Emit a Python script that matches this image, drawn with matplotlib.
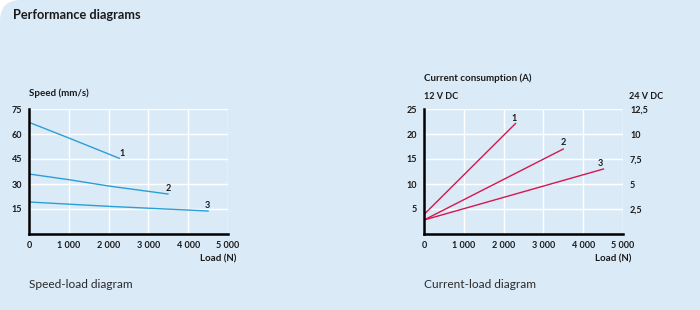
import matplotlib.pyplot as plt
from matplotlib.patches import FancyBboxPatch

# --- data ---
load_ticks = [0, 1000, 2000, 3000, 4000, 5000]
load_labels = ["0", "1 000", "2 000", "3 000", "4 000", "5 000"]

speed_ticks = [15, 30, 45, 60, 75]
speed_x1 = [0, 1000, 2270]
speed_y1 = [67.0, 57.6, 45.4]
speed_x2 = [0, 1000, 2000, 3490]
speed_y2 = [36.0, 32.6, 28.8, 24.0]
speed_x3 = [0, 2000, 4500]
speed_y3 = [19.2, 16.6, 13.8]

curr_ticks = [5, 10, 15, 20, 25]
curr_ticks_24 = [2.5, 5, 7.5, 10, 12.5]
curr_labels_24 = ["2,5", "5", "7,5", "10", "12,5"]
curr_x1 = [0, 2300]
curr_y1 = [3.9, 22.1]
curr_x2 = [0, 3500]
curr_y2 = [2.8, 17.0]
curr_x3 = [0, 4510]
curr_y3 = [2.8, 13.0]

BG = "#dbeaf7"
BLUE = "#2a9fd6"
RED = "#d4184f"
TXT = "#1a1a1a"
plt.rcParams['font.family'] = ['Lato', 'DejaVu Sans']

fig = plt.figure(figsize=(7, 3.1), dpi=100, facecolor="white")
bg = FancyBboxPatch((0, -0.2), 1.2, 1.2, boxstyle="round,pad=0,rounding_size=0.03",
                    transform=fig.transFigure, facecolor=BG, edgecolor="none",
                    mutation_aspect=700 / 310, zorder=-10)
fig.patches.append(bg)

fig.text(13 / 700, 1 - 15 / 310, "Performance diagrams", fontsize=9.2, fontweight="bold",
         color=TXT, va="center", ha="left")


def style_axes(ax, ymax, yticks):
    ax.set_facecolor("none")
    ax.set_xlim(0, 5000)
    ax.set_ylim(0, ymax)
    ax.set_xticks(load_ticks)
    ax.set_xticklabels(load_labels)
    ax.set_yticks(yticks)
    for s in ["top", "right"]:
        ax.spines[s].set_visible(False)
    for s in ["left", "bottom"]:
        ax.spines[s].set_linewidth(1.8)
        ax.spines[s].set_color("black")
        ax.spines[s].set_zorder(5)
    ax.tick_params(length=0, labelsize=6.5, colors=TXT, pad=5)
    for lab in ax.get_xticklabels() + ax.get_yticklabels():
        lab.set_fontweight("bold")
    for t in load_ticks[1:]:
        ax.axvline(t, color="white", lw=1, zorder=0)
    for t in yticks:
        ax.axhline(t, color="white", lw=1, zorder=0)
    ax.text(1.04, -0.2, "Load (N)", transform=ax.transAxes, ha="right", va="center",
            fontsize=7, fontweight="bold", color=TXT)


# speed-load
ax1 = fig.add_axes([29 / 700, 76 / 310, 199 / 700, 125 / 310])
style_axes(ax1, 75, speed_ticks)
ax1.plot(speed_x1, speed_y1, color=BLUE, lw=1)
ax1.plot(speed_x2, speed_y2, color=BLUE, lw=1)
ax1.plot(speed_x3, speed_y3, color=BLUE, lw=1)
ax1.text(2350, 48.2, "1", fontsize=6.5, fontweight="bold", ha="center", va="center", color=TXT)
ax1.text(3500, 27.2, "2", fontsize=6.5, fontweight="bold", ha="center", va="center", color=TXT)
ax1.text(4470, 17.0, "3", fontsize=6.5, fontweight="bold", ha="center", va="center", color=TXT)
ax1.text(0, 1.13, "Speed (mm/s)", transform=ax1.transAxes, ha="left", va="center",
         fontsize=7, fontweight="bold", color=TXT)
fig.text(29 / 700, 1 - 284 / 310, "Speed-load diagram", fontsize=8.6, color="#2b2b2b",
         ha="left", va="center")

# current-load
ax2 = fig.add_axes([424 / 700, 76 / 310, 199 / 700, 125 / 310])
style_axes(ax2, 25, curr_ticks)
ax2.plot(curr_x1, curr_y1, color=RED, lw=1)
ax2.plot(curr_x2, curr_y2, color=RED, lw=1)
ax2.plot(curr_x3, curr_y3, color=RED, lw=1)
ax2.text(2250, 23.2, "1", fontsize=6.5, fontweight="bold", ha="center", va="center", color=TXT)
ax2.text(3490, 18.4, "2", fontsize=6.5, fontweight="bold", ha="center", va="center", color=TXT)
ax2.text(4440, 14.1, "3", fontsize=6.5, fontweight="bold", ha="center", va="center", color=TXT)

ax3 = ax2.twinx()
ax3.set_ylim(0, 12.5)
ax3.set_yticks(curr_ticks_24)
ax3.set_yticklabels(curr_labels_24)
for s in ax3.spines.values():
    s.set_visible(False)
ax3.tick_params(length=0, labelsize=6.5, colors=TXT, pad=5)
for lab in ax3.get_yticklabels():
    lab.set_fontweight("bold")

ax2.text(0, 1.25, "Current consumption (A)", transform=ax2.transAxes, ha="left", va="center",
         fontsize=7, fontweight="bold", color=TXT)
ax2.text(0, 1.1, "12 V DC", transform=ax2.transAxes, ha="left", va="center",
         fontsize=6.5, fontweight="bold", color=TXT)
ax2.text(1.03, 1.1, "24 V DC", transform=ax2.transAxes, ha="left", va="center",
         fontsize=6.5, fontweight="bold", color=TXT)
fig.text(424 / 700, 1 - 284 / 310, "Current-load diagram", fontsize=8.6, color="#2b2b2b",
         ha="left", va="center")

fig.savefig("out.png", dpi=100, facecolor="white")
